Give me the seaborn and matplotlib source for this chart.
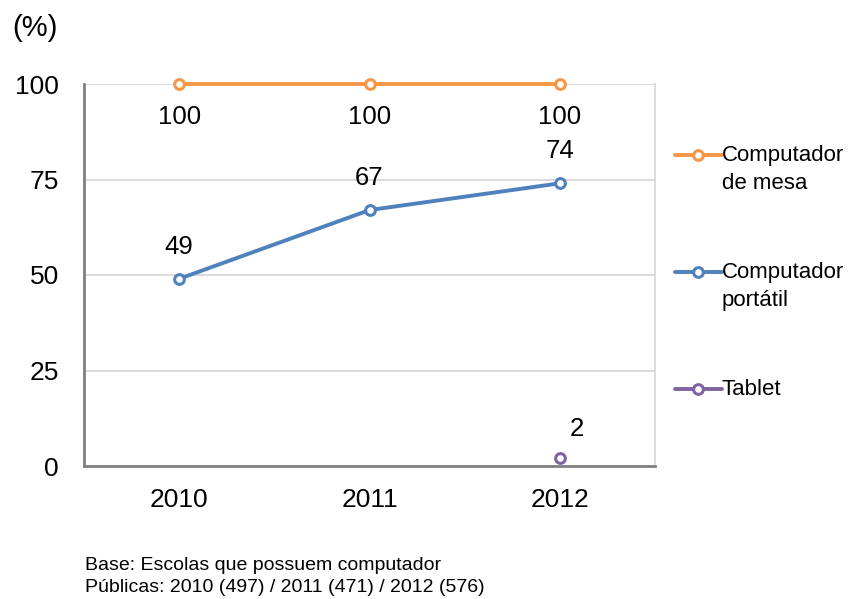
import pandas as pd
import numpy as np
import matplotlib
matplotlib.use('Agg')
import matplotlib.pyplot as plt
import seaborn as sns

anos = ['2010', '2011', '2012']
series = ['Computador de mesa', 'Computador portátil', 'Tablet']
legenda = ['Computador\nde mesa', 'Computador\nportátil', 'Tablet']
mesa = [100, 100, 100]
portatil = [49, 67, 74]
tablet = [np.nan, np.nan, 2]
cores = ['#F79646', '#4F81BD', '#8064A2']

df = pd.DataFrame({
    'ano': anos * 3,
    'serie': [series[0]] * 3 + [series[1]] * 3 + [series[2]] * 3,
    'valor': mesa + portatil + tablet,
})

sns.set_style('white')
plt.rcParams['font.family'] = ['Liberation Sans', 'DejaVu Sans']
plt.rcParams['text.color'] = 'black'
plt.rcParams['xtick.color'] = 'black'
plt.rcParams['ytick.color'] = 'black'

fig = plt.figure(figsize=(8.49, 5.99), dpi=100)
ax = fig.add_axes([84 / 849, 1 - 466 / 599, (655 - 84) / 849, (466 - 84) / 599])

for s, c in zip(series, cores):
    sub = df[df['serie'] == s]
    x = [anos.index(a) for a in sub['ano']]
    sns.lineplot(x=x, y=sub['valor'].values, ax=ax, color=c, linewidth=2.8,
                 marker='o', markersize=7, markerfacecolor='white',
                 markeredgecolor=c, markeredgewidth=2.2, legend=False, clip_on=False, zorder=3)

# rótulos de dados
for i, v in enumerate(mesa):
    ax.annotate(str(v), (i, v), xytext=(0, -24), textcoords='offset points',
                ha='center', va='center', fontsize=18.5)
for i, v in enumerate(portatil):
    ax.annotate(str(v), (i, v), xytext=(0, 23), textcoords='offset points',
                ha='center', va='center', fontsize=18.5)
for i, v in enumerate(tablet):
    if not np.isnan(v):
        ax.annotate(str(v), (i, v), xytext=(12, 21), textcoords='offset points',
                    ha='center', va='center', fontsize=18.5)

ax.set_xlim(-0.5, 2.5)
ax.set_ylim(0, 100)
ax.set_yticks([0, 25, 50, 75, 100])
ax.set_xticks([0, 1, 2])
ax.set_xticklabels(anos)
ax.set_xticks([-0.5, 0.5, 1.5, 2.5], minor=True)
ax.tick_params(axis='x', which='major', length=0, pad=16, labelsize=19)
ax.tick_params(axis='x', which='minor', length=7, width=1.5, color='#808080', direction='out')
ax.tick_params(axis='y', length=7, width=1.5, color='#808080', labelcolor='black',
               direction='out', pad=11, labelsize=19)
ax.grid(axis='y', color='#D9D9D9', linewidth=1.3)
ax.set_axisbelow(True)
for lado in ['left', 'bottom']:
    ax.spines[lado].set_color('#808080')
    ax.spines[lado].set_linewidth(2)
ax.spines['top'].set_visible(False)
ax.spines['right'].set_color('#D9D9D9')
ax.spines['right'].set_linewidth(1.3)
ax.set_xlabel('')
ax.set_ylabel('')

fig.text(12 / 849, 1 - 28 / 599, '(%)', fontsize=21, va='center', ha='left')

# legenda manual
ys_leg = [155, 272, 389]
for lab, c, yy in zip(legenda, cores, ys_leg):
    yf = 1 - yy / 599
    fig.lines.append(plt.Line2D([675 / 849, 722 / 849], [yf, yf], color=c, linewidth=2.8,
                                transform=fig.transFigure))
    fig.lines.append(plt.Line2D([698 / 849], [yf], color=c, marker='o', markersize=7,
                                markerfacecolor='white', markeredgecolor=c, markeredgewidth=2.2,
                                transform=fig.transFigure))
    fig.text(722 / 849, yf + 10 / 599, lab, fontsize=16, va='top', ha='left', linespacing=1.42)

fig.text(85 / 849, 1 - 565 / 599, 'Base: Escolas que possuem computador', fontsize=14, va='center')
fig.text(85 / 849, 1 - 588 / 599, 'Públicas: 2010 (497) / 2011 (471) / 2012 (576)', fontsize=14, va='center')

fig.savefig('out.png', dpi=100)
